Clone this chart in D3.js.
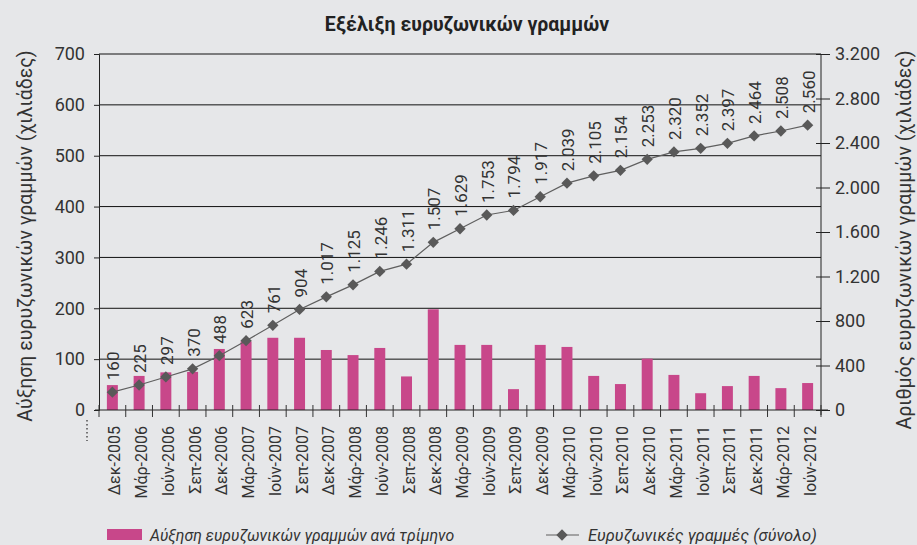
<!DOCTYPE html>
<html><head><meta charset="utf-8">
<script src="https://cdn.jsdelivr.net/npm/d3@7"></script>
<style>
body{margin:0;background:#e6e7e9;}
svg{display:block;font-family:Roboto, sans-serif;}
</style></head>
<body><svg id="c" width="917" height="545"></svg>
<script>
const categories = ["Δεκ-2005","Μάρ-2006","Ιούν-2006","Σεπ-2006","Δεκ-2006","Μάρ-2007","Ιούν-2007","Σεπ-2007","Δεκ-2007","Μάρ-2008","Ιούν-2008","Σεπ-2008","Δεκ-2008","Μάρ-2009","Ιούν-2009","Σεπ-2009","Δεκ-2009","Μάρ-2010","Ιούν-2010","Σεπ-2010","Δεκ-2010","Μάρ-2011","Ιούν-2011","Σεπ-2011","Δεκ-2011","Μάρ-2012","Ιούν-2012"];
const increase = [49,67,74,75,120,135,142,142,118,108,122,66,198,128,128,41,128,124,67,51,101,69,33,47,67,43,53];
const total = [160,225,297,370,488,623,761,904,1017,1125,1246,1311,1507,1629,1753,1794,1917,2039,2105,2154,2253,2320,2352,2397,2464,2508,2560];
const leftTicks = [0,100,200,300,400,500,600,700];
const rightTicks = [0,400,800,1200,1600,2000,2400,2800,3200];
const title = "Εξέλιξη ευρυζωνικών γραμμών";
const leftTitle = "Αύξηση ευρυζωνικών γραμμών (χιλιάδες)";
const rightTitle = "Αριθμός ευρυζωνικών γραμμών (χιλιάδες)";
const barLegend = "Αύξηση ευρυζωνικών γραμμών ανά τρίμηνο";
const lineLegend = "Ευρυζωνικές γραμμές (σύνολο)";

const svg = d3.select("#c");
const L = 99, R = 821, T = 54, B = 410;
const txt = "#333";
const fmt = v => d3.format(",")(v).replace(/,/g, ".");

const x = d3.scaleBand().domain(categories).range([L, R]).paddingInner(0.59).paddingOuter(0.295);
const yL = d3.scaleLinear().domain([0, 700]).range([B, T]);
const yR = d3.scaleLinear().domain([0, 3200]).range([B, T]);

// title
svg.append("text").attr("x", 467).attr("y", 31).attr("text-anchor", "middle")
  .attr("font-size", 19.5).attr("font-weight", "bold").attr("fill", "#222").text(title);

// gridlines
svg.append("g").selectAll("line").data(leftTicks.filter(d => d > 0)).join("line")
  .attr("x1", L).attr("x2", R).attr("y1", d => yL(d)).attr("y2", d => yL(d))
  .attr("stroke", "#111").attr("stroke-width", 1);

// bars
svg.append("g").selectAll("rect").data(increase).join("rect")
  .attr("x", (d, i) => x(categories[i])).attr("width", x.bandwidth())
  .attr("y", d => yL(d)).attr("height", d => B - yL(d)).attr("fill", "#c8478a");

// left axis
const gl = svg.append("g").attr("transform", `translate(${L},0)`)
  .call(d3.axisLeft(yL).tickValues(leftTicks).tickSize(5).tickPadding(9));
gl.select(".domain").attr("stroke", "#222");
gl.selectAll(".tick line").attr("stroke", "#222");
gl.selectAll(".tick text").attr("font-size", 18).attr("fill", txt).attr("font-family", "Roboto, sans-serif");

// right axis
const gr = svg.append("g").attr("transform", `translate(${R},0)`)
  .call(d3.axisRight(yR).tickValues(rightTicks).tickSize(9).tickPadding(5).tickFormat(fmt));
gr.select(".domain").attr("stroke", "#222").attr("d", `M0,${T}V${B + 5}`);
gr.selectAll(".tick line").attr("stroke", "#222").attr("x1", -5);
gr.selectAll(".tick text").attr("font-size", 18).attr("fill", txt).attr("font-family", "Roboto, sans-serif");

// bottom axis
const xb = d3.scaleLinear().domain([0, categories.length]).range([L, R]);
const gb = svg.append("g");
gb.append("line").attr("x1", L - 4).attr("x2", R + 7).attr("y1", B).attr("y2", B).attr("stroke", "#222");
gb.selectAll("line.tk").data(d3.range(categories.length + 1)).join("line").attr("class", "tk")
  .attr("x1", d => xb(d)).attr("x2", d => xb(d)).attr("y1", B - 5).attr("y2", B + 7)
  .attr("stroke", "#333");
gb.selectAll("text").data(categories).join("text")
  .attr("transform", d => `translate(${x(d) + x.bandwidth() / 2 + 8},${B + 16}) rotate(-90)`)
  .attr("text-anchor", "end").attr("font-size", 16).attr("fill", txt).text(d => d);
// dotted artifact
svg.append("line").attr("x1", 87).attr("x2", 87).attr("y1", 420).attr("y2", 441)
  .attr("stroke", "#444").attr("stroke-width", 1.4).attr("stroke-dasharray", "1.5,2.5");

// line series
const cx = (d, i) => x(categories[i]) + x.bandwidth() / 2;
const line = d3.line().x((d, i) => cx(d, i)).y(d => yR(d));
svg.append("path").datum(total).attr("d", line).attr("fill", "none").attr("stroke", "#5f5f5f").attr("stroke-width", 1.2);
const sym = d3.symbol().type(d3.symbolSquare).size(64);
svg.append("g").selectAll("path").data(total).join("path")
  .attr("d", sym).attr("transform", (d, i) => `translate(${cx(d, i)},${yR(d)}) rotate(45)`)
  .attr("fill", "#595959");
svg.append("g").selectAll("text").data(total).join("text")
  .attr("transform", (d, i) => `translate(${cx(d, i) + 7},${yR(d) - 12}) rotate(-90)`)
  .attr("font-size", 17).attr("fill", txt).text(d => fmt(d));

// axis titles
svg.append("text").attr("transform", `translate(32,236) rotate(-90)`).attr("text-anchor", "middle")
  .attr("font-size", 19.5).attr("fill", txt).text(leftTitle);
svg.append("text").attr("transform", `translate(911,240) rotate(-90)`).attr("text-anchor", "middle")
  .attr("font-size", 19.5).attr("fill", txt).text(rightTitle);

// legend
svg.append("rect").attr("x", 107).attr("y", 529).attr("width", 35).attr("height", 11).attr("fill", "#c8478a");
svg.append("text").attr("x", 150).attr("y", 541).attr("font-size", 15.8).attr("font-style", "italic").attr("fill", txt).text(barLegend);
svg.append("line").attr("x1", 546).attr("x2", 579).attr("y1", 535).attr("y2", 535).attr("stroke", "#5f5f5f").attr("stroke-width", 1.2);
svg.append("path").attr("d", sym).attr("transform", "translate(562,535) rotate(45)").attr("fill", "#595959");
svg.append("text").attr("x", 588).attr("y", 541).attr("font-size", 16.5).attr("font-style", "italic").attr("fill", txt).text(lineLegend);
</script></body></html>
